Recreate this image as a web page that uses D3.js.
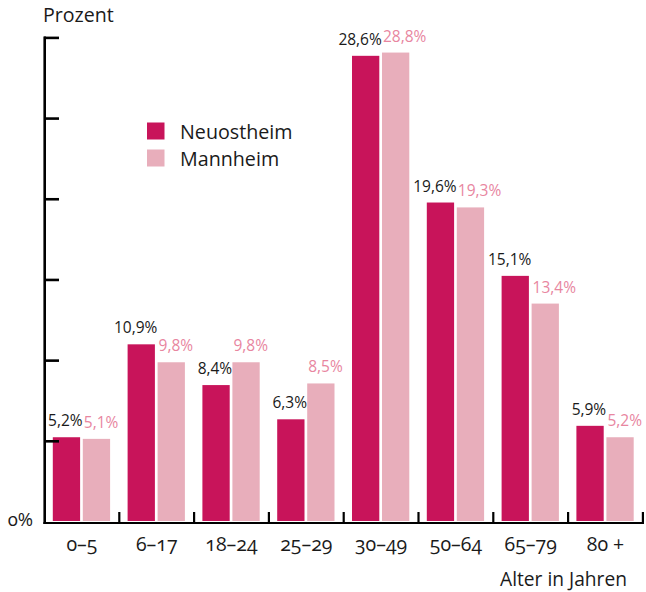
<!DOCTYPE html>
<html><head><meta charset="utf-8">
<script src="https://cdn.jsdelivr.net/npm/d3@7"></script>
<style>
body{margin:0;background:#fff;}
svg text{font-family:"Open Sans","Noto Sans",sans-serif;}
</style></head>
<body><svg id="c" width="646" height="592"></svg>
<script>
const categories = ["0–5","6–17","18–24","25–29","30–49","50–64","65–79","80 +"];
const neuostheim = [5.2,10.9,8.4,6.3,28.6,19.6,15.1,5.9];
const mannheim   = [5.1,9.8,9.8,8.5,28.8,19.3,13.4,5.2];
const neuLabels  = ["5,2%","10,9%","8,4%","6,3%","28,6%","19,6%","15,1%","5,9%"];
const manLabels  = ["5,1%","9,8%","9,8%","8,5%","28,8%","19,3%","13,4%","5,2%"];
const yTicks = [0,4.95,9.9,14.85,19.8,24.75,29.7];
const seriesNames = ["Neuostheim","Mannheim"];

const C_DARK = "#c8145a", C_LIGHT = "#e8aebb", C_LTXT = "#e8869f", C_TXT = "#1a1a1a";
const svg = d3.select("#c");

const x0 = d3.scaleBand().domain(categories).range([44.5, 642.9]).paddingInner(0).paddingOuter(0);
const y = d3.scaleLinear().domain([0,30]).range([522, 522-16.3*30]);

const barW = 27.3, gap = 2.7, offset = 8.3;

// bars
const g = svg.append("g");
categories.forEach((c,i)=>{
  const bx = x0(c) + offset;
  g.append("rect").attr("x",bx).attr("y",y(neuostheim[i])).attr("width",barW)
    .attr("height",y(0)-y(neuostheim[i])-1).attr("fill",C_DARK);
  g.append("rect").attr("x",bx+barW+gap).attr("y",y(mannheim[i])).attr("width",barW)
    .attr("height",y(0)-y(mannheim[i])-1).attr("fill",C_LIGHT);
  g.append("text").attr("x",bx+barW+2.5).attr("y",y(neuostheim[i])-11)
    .attr("text-anchor","end").attr("font-size",15.5).attr("fill",C_TXT)
    .text(neuLabels[i]);
  g.append("text").attr("x",bx+barW+gap+1).attr("y",y(mannheim[i])-11)
    .attr("text-anchor","start").attr("font-size",15.5).attr("fill",C_LTXT)
    .text(manLabels[i]);
});

// y axis
svg.append("line").attr("x1",44.7).attr("x2",44.7).attr("y1",y(yTicks[yTicks.length-1])-1.3).attr("y2",524)
  .attr("stroke","#000").attr("stroke-width",2.6);
svg.selectAll(".yt").data(yTicks.slice(1)).enter().append("line")
  .attr("x1",44).attr("x2",59).attr("y1",d=>y(d)).attr("y2",d=>y(d))
  .attr("stroke","#000").attr("stroke-width",2.6);
svg.append("text").attr("x",33).attr("y",526).attr("text-anchor","end")
  .attr("font-size",18.5).attr("fill",C_TXT).style("font-variant-numeric","oldstyle-nums").text("0%");

// x axis
svg.append("line").attr("x1",43.4).attr("x2",644).attr("y1",523).attr("y2",523)
  .attr("stroke","#000").attr("stroke-width",2.2);
const bounds = categories.map(c=>x0(c)+x0.bandwidth());
svg.selectAll(".xt").data(bounds).enter().append("line")
  .attr("x1",d=>d).attr("x2",d=>d).attr("y1",512).attr("y2",523)
  .attr("stroke","#000").attr("stroke-width",2.2);
svg.selectAll(".xl").data(categories).enter().append("text")
  .attr("x",d=>x0(d)+x0.bandwidth()/2).attr("y",551).attr("text-anchor","middle")
  .attr("font-size",19.5).attr("fill",C_TXT).style("font-variant-numeric","oldstyle-nums").text(d=>d);

svg.append("text").attr("x",627).attr("y",586).attr("text-anchor","end")
  .attr("font-size",19.2).attr("fill",C_TXT).text("Alter in Jahren");
svg.append("text").attr("x",43).attr("y",22).attr("text-anchor","start")
  .attr("font-size",19.6).attr("fill",C_TXT).text("Prozent");

// legend
const leg = svg.append("g");
seriesNames.forEach((n,i)=>{
  leg.append("rect").attr("x",147).attr("y",122.5+i*27).attr("width",17.5).attr("height",17)
    .attr("fill",i===0?C_DARK:C_LIGHT);
  leg.append("text").attr("x",180).attr("y",138.5+i*27).attr("font-size",19.7).attr("fill",C_TXT).text(n);
});
</script></body></html>
